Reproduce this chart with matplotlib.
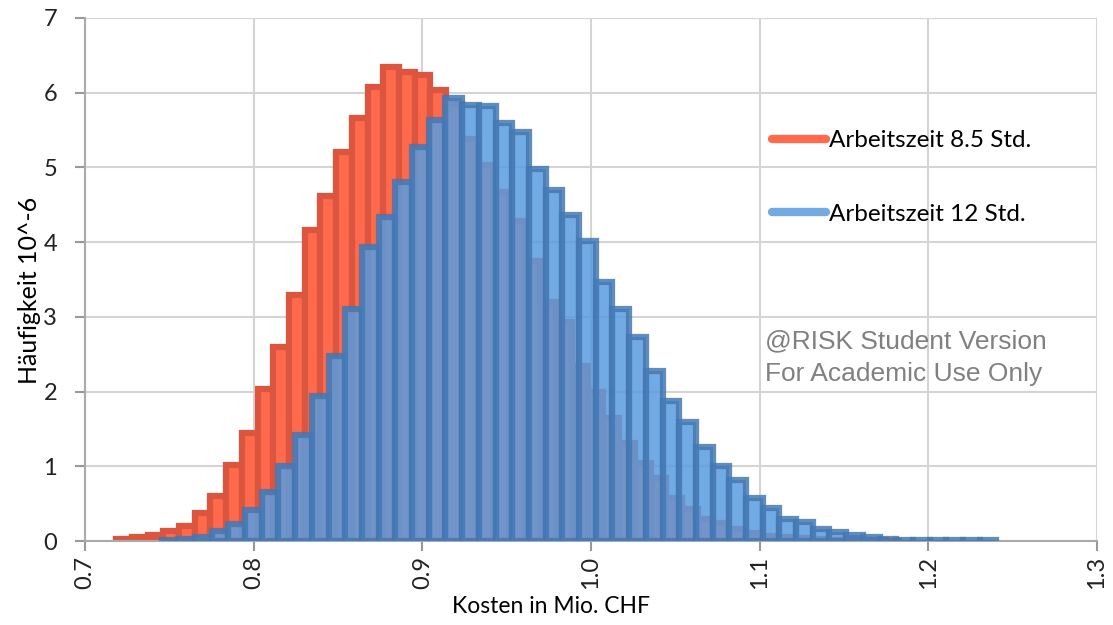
import numpy as np
import matplotlib.pyplot as plt
from matplotlib.lines import Line2D

# Histogramm-Daten (Dichte, Einheit 10^-6), je 50 Klassen
red_min, red_max = 0.7184, 1.1844
red_h = [0.03, 0.05, 0.08, 0.13, 0.20, 0.37, 0.60, 1.02, 1.44, 2.03,
         2.60, 3.29, 4.16, 4.62, 5.20, 5.66, 6.08, 6.35, 6.28, 6.24,
         6.04, 5.85, 5.38, 5.03, 4.67, 4.28, 3.75, 3.20, 2.93, 2.34,
         1.99, 1.64, 1.31, 1.04, 0.84, 0.57, 0.43, 0.29, 0.24, 0.16,
         0.11, 0.07, 0.05, 0.035, 0.025, 0.02, 0.015, 0.01, 0.01, 0.005]

blue_min, blue_max = 0.7454, 1.2404
blue_h = [0.01, 0.03, 0.05, 0.14, 0.23, 0.42, 0.65, 1.00, 1.42, 1.94,
          2.47, 3.11, 3.93, 4.34, 4.81, 5.28, 5.64, 5.93, 5.84, 5.82,
          5.60, 5.48, 4.98, 4.70, 4.36, 4.02, 3.47, 3.10, 2.73, 2.28,
          1.88, 1.59, 1.26, 1.01, 0.82, 0.58, 0.44, 0.29, 0.25, 0.16,
          0.12, 0.08, 0.05, 0.03, 0.02, 0.015, 0.01, 0.01, 0.01, 0.01]

labels = ['Arbeitszeit 8.5 Std.', 'Arbeitszeit 12 Std.']
xticks = [0.7, 0.8, 0.9, 1.0, 1.1, 1.2, 1.3]

plt.rcParams['font.family'] = ['Lato', 'DejaVu Sans']

fig = plt.figure(figsize=(11.13, 6.25), dpi=100)
ax = fig.add_axes([0.0764, 0.1344, 0.9092, 0.8368])

# Klassengrenzen
red_edges = np.linspace(red_min, red_max, len(red_h) + 1)
blue_edges = np.linspace(blue_min, blue_max, len(blue_h) + 1)

ax.bar(red_edges[:-1], red_h, width=np.diff(red_edges), align='edge',
       facecolor='#ff6a4d', edgecolor='#dc553e',
       linewidth=4.5, zorder=2)
ax.bar(blue_edges[:-1], blue_h, width=np.diff(blue_edges), align='edge',
       facecolor=(0.35, 0.61, 0.875, 0.85), edgecolor=(0.27, 0.47, 0.70, 0.85),
       linewidth=4.5, zorder=3)

ax.set_xlim(0.7, 1.3)
ax.set_ylim(0, 7)
ax.set_xticks(xticks)
ax.set_xticklabels(['%.1f' % t for t in xticks], rotation=90, fontsize=17)
ax.set_yticks(range(0, 8))
ax.tick_params(axis='y', labelsize=17, pad=13)
ax.tick_params(colors='#999999', labelcolor='#222222', length=7, width=1.5)

ax.grid(True, color='#d4d4d4', linewidth=1.5, zorder=0)
ax.set_axisbelow(True)
for s in ['top', 'right']:
    ax.spines[s].set_visible(False)
for s in ['left', 'bottom']:
    ax.spines[s].set_color('#aaaaaa')
    ax.spines[s].set_linewidth(1.5)

ax.set_xlabel('Kosten in Mio. CHF', fontsize=16.5)
ax.xaxis.set_label_coords(0.46, -0.106)
ax.set_ylabel('Häufigkeit 10^-6', fontsize=18)
ax.yaxis.set_label_coords(-0.0435, 0.48)

handles = [Line2D([], [], color='#ff6a4d', lw=6, solid_capstyle='round'),
           Line2D([], [], color='#73aae4', lw=6, solid_capstyle='round')]
fig.legend(handles, labels, loc='upper left', bbox_to_anchor=(0.694, 0.792),
           frameon=False, fontsize=17.5, handlelength=2.2, handletextpad=0.12,
           labelspacing=2.17, borderpad=0, borderaxespad=0)

ax.text(0.672, 0.382, '@RISK Student Version', transform=ax.transAxes,
        fontsize=19, color='#808080', family='Liberation Sans', va='center')
ax.text(0.672, 0.319, 'For Academic Use Only', transform=ax.transAxes,
        fontsize=19, color='#808080', family='Liberation Sans', va='center')

plt.savefig('out.png', dpi=100)
